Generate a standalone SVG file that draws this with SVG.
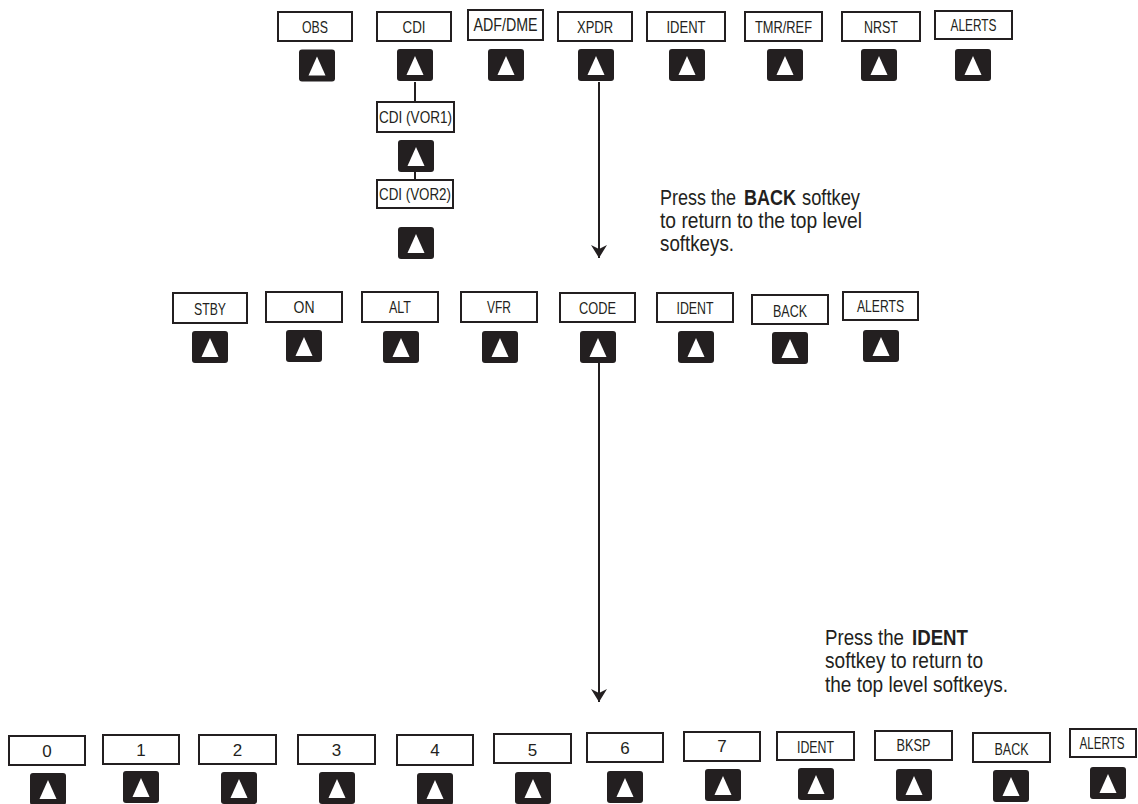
<svg xmlns="http://www.w3.org/2000/svg" xmlns:xlink="http://www.w3.org/1999/xlink" width="1138" height="804" viewBox="0 0 1138 804">
<style>
.bx{fill:#fff;stroke:#231f20;stroke-width:2}
.lb{font-family:"Liberation Sans",Arial,sans-serif;font-size:17px;fill:#231f20;text-anchor:middle}
.co{font-family:"Liberation Sans",Arial,sans-serif;font-size:22px;fill:#231f20}
.b{font-weight:bold}
.cn{stroke:#231f20;stroke-width:2;fill:none}
</style>
<defs>
<symbol id="key" viewBox="0 0 36 32" width="36" height="32" overflow="visible">
<rect x="0" y="0" width="36" height="32" rx="3" fill="#231f20"/>
<polygon points="18,7 26.5,26 9.5,26" fill="#fff"/>
</symbol>
<marker id="arr" markerUnits="userSpaceOnUse" markerWidth="16" markerHeight="18" viewBox="0 -9 16 18" refX="13" refY="0" orient="auto">
<path d="M0,-8 L13,0 L0,8 L4,0 z" fill="#231f20"/>
</marker>
</defs>

<rect x="0" y="0" width="1138" height="804" fill="#fff"/>

<g id="connectors">
<line class="cn" x1="415" y1="82" x2="415" y2="102"/>
<line class="cn" x1="415" y1="172" x2="415" y2="180"/>
<line class="cn" x1="599" y1="82" x2="599" y2="258" marker-end="url(#arr)"/>
<line class="cn" x1="599" y1="363" x2="599" y2="702" marker-end="url(#arr)"/>
</g>

<!-- top row -->
<g id="top-obs"><rect class="bx" x="278" y="12" width="74" height="29"/><text class="lb" x="315" y="33" textLength="26" lengthAdjust="spacingAndGlyphs">OBS</text><use href="#key" x="299" y="49" width="36" height="33"/></g>
<g id="top-cdi"><rect class="bx" x="377" y="12" width="74" height="29"/><text class="lb" x="414" y="33" textLength="23" lengthAdjust="spacingAndGlyphs">CDI</text><use href="#key" x="397" y="49"/></g>
<g id="top-adfdme"><rect class="bx" x="468" y="10" width="75" height="30"/><text class="lb" x="505.5" y="31" style="font-size:18px" textLength="64" lengthAdjust="spacingAndGlyphs">ADF/DME</text><use href="#key" x="488" y="49"/></g>
<g id="top-xpdr"><rect class="bx" x="558" y="12" width="74" height="29"/><text class="lb" x="595" y="33" textLength="36" lengthAdjust="spacingAndGlyphs">XPDR</text><use href="#key" x="578" y="49"/></g>
<g id="top-ident"><rect class="bx" x="647" y="12" width="78" height="29"/><text class="lb" x="686" y="33" textLength="39" lengthAdjust="spacingAndGlyphs">IDENT</text><use href="#key" x="669" y="49"/></g>
<g id="top-tmrref"><rect class="bx" x="745" y="12" width="77" height="29"/><text class="lb" x="783.5" y="33" textLength="57" lengthAdjust="spacingAndGlyphs">TMR/REF</text><use href="#key" x="767" y="49"/></g>
<g id="top-nrst"><rect class="bx" x="842" y="12" width="78" height="29"/><text class="lb" x="881" y="33" textLength="34" lengthAdjust="spacingAndGlyphs">NRST</text><use href="#key" x="861" y="49"/></g>
<g id="top-alerts"><rect class="bx" x="935" y="11" width="77" height="28"/><text class="lb" x="973.5" y="31" textLength="46" lengthAdjust="spacingAndGlyphs">ALERTS</text><use href="#key" x="955" y="49"/></g>

<!-- CDI sub -->
<g id="cdi-vor1"><rect class="bx" x="377" y="102" width="77" height="30"/><text class="lb" x="415.5" y="123" textLength="73" lengthAdjust="spacingAndGlyphs">CDI (VOR1)</text><use href="#key" x="398" y="140"/></g>
<g id="cdi-vor2"><rect class="bx" x="377" y="180" width="76" height="28"/><text class="lb" x="415" y="200" textLength="72" lengthAdjust="spacingAndGlyphs">CDI (VOR2)</text><use href="#key" x="398" y="227"/></g>

<!-- callout 1 -->
<g id="note-back">
<text class="co" x="660" y="205" textLength="76" lengthAdjust="spacingAndGlyphs">Press the</text>
<text class="co b" x="744" y="205" textLength="52" lengthAdjust="spacingAndGlyphs">BACK</text>
<text class="co" x="802" y="205" textLength="58" lengthAdjust="spacingAndGlyphs">softkey</text>
<text class="co" x="660" y="228" textLength="202" lengthAdjust="spacingAndGlyphs">to return to the top level</text>
<text class="co" x="660" y="251" textLength="74" lengthAdjust="spacingAndGlyphs">softkeys.</text>
</g>

<!-- middle row -->
<g id="mid-stby"><rect class="bx" x="173" y="293" width="74" height="30"/><text class="lb" x="210" y="315" textLength="32" lengthAdjust="spacingAndGlyphs">STBY</text><use href="#key" x="192" y="331"/></g>
<g id="mid-on"><rect class="bx" x="266" y="292" width="76" height="30"/><text class="lb" x="304" y="313" textLength="21" lengthAdjust="spacingAndGlyphs">ON</text><use href="#key" x="286" y="330"/></g>
<g id="mid-alt"><rect class="bx" x="362" y="292" width="76" height="30"/><text class="lb" x="400" y="313" textLength="22" lengthAdjust="spacingAndGlyphs">ALT</text><use href="#key" x="383" y="331"/></g>
<g id="mid-vfr"><rect class="bx" x="461" y="292" width="76" height="30"/><text class="lb" x="499" y="313" textLength="24" lengthAdjust="spacingAndGlyphs">VFR</text><use href="#key" x="482" y="331"/></g>
<g id="mid-code"><rect class="bx" x="560" y="293" width="75" height="29"/><text class="lb" x="597.5" y="314" textLength="37" lengthAdjust="spacingAndGlyphs">CODE</text><use href="#key" x="580" y="331"/></g>
<g id="mid-ident"><rect class="bx" x="657" y="293" width="76" height="29"/><text class="lb" x="695" y="314" textLength="37" lengthAdjust="spacingAndGlyphs">IDENT</text><use href="#key" x="678" y="331"/></g>
<g id="mid-back"><rect class="bx" x="752" y="295" width="76" height="29"/><text class="lb" x="790" y="317" textLength="34" lengthAdjust="spacingAndGlyphs">BACK</text><use href="#key" x="772" y="332"/></g>
<g id="mid-alerts"><rect class="bx" x="843" y="292" width="75" height="28"/><text class="lb" x="880.5" y="312" textLength="47" lengthAdjust="spacingAndGlyphs">ALERTS</text><use href="#key" x="863" y="330"/></g>

<!-- callout 2 -->
<g id="note-ident">
<text class="co" x="825" y="645" textLength="79" lengthAdjust="spacingAndGlyphs">Press the</text>
<text class="co b" x="912" y="645" textLength="56" lengthAdjust="spacingAndGlyphs">IDENT</text>
<text class="co" x="825" y="668" textLength="158" lengthAdjust="spacingAndGlyphs">softkey to return to</text>
<text class="co" x="825" y="692" textLength="183" lengthAdjust="spacingAndGlyphs">the top level softkeys.</text>
</g>

<!-- bottom row -->
<g id="bot-0"><rect class="bx" x="9" y="736" width="76" height="29"/><text class="lb" x="47" y="757">0</text><use href="#key" x="30" y="773"/></g>
<g id="bot-1"><rect class="bx" x="103" y="735" width="76" height="29"/><text class="lb" x="141" y="756">1</text><use href="#key" x="123" y="771"/></g>
<g id="bot-2"><rect class="bx" x="199" y="735" width="77" height="29"/><text class="lb" x="237.5" y="756">2</text><use href="#key" x="221" y="772"/></g>
<g id="bot-3"><rect class="bx" x="298" y="735" width="77" height="29"/><text class="lb" x="336.5" y="756">3</text><use href="#key" x="319" y="772"/></g>
<g id="bot-4"><rect class="bx" x="397" y="735" width="76" height="30"/><text class="lb" x="435" y="756">4</text><use href="#key" x="417" y="773"/></g>
<g id="bot-5"><rect class="bx" x="494" y="734" width="77" height="29"/><text class="lb" x="532.5" y="756">5</text><use href="#key" x="515" y="772"/></g>
<g id="bot-6"><rect class="bx" x="587" y="733" width="76" height="29"/><text class="lb" x="625" y="754">6</text><use href="#key" x="607" y="771"/></g>
<g id="bot-7"><rect class="bx" x="684" y="732" width="76" height="29"/><text class="lb" x="722" y="752">7</text><use href="#key" x="705" y="769"/></g>
<g id="bot-ident"><rect class="bx" x="777" y="732" width="77" height="28"/><text class="lb" x="815.5" y="753" textLength="37" lengthAdjust="spacingAndGlyphs">IDENT</text><use href="#key" x="798" y="768"/></g>
<g id="bot-bksp"><rect class="bx" x="875" y="731" width="77" height="29"/><text class="lb" x="913.5" y="751" textLength="34" lengthAdjust="spacingAndGlyphs">BKSP</text><use href="#key" x="896" y="769"/></g>
<g id="bot-back"><rect class="bx" x="973" y="733" width="77" height="29"/><text class="lb" x="1011.5" y="755" textLength="34" lengthAdjust="spacingAndGlyphs">BACK</text><use href="#key" x="993" y="770"/></g>
<g id="bot-alerts"><rect class="bx" x="1070" y="729" width="66" height="28"/><text class="lb" x="1102" y="749" style="font-size:16px" textLength="45" lengthAdjust="spacingAndGlyphs">ALERTS</text><use href="#key" x="1090" y="767"/></g>
</svg>
